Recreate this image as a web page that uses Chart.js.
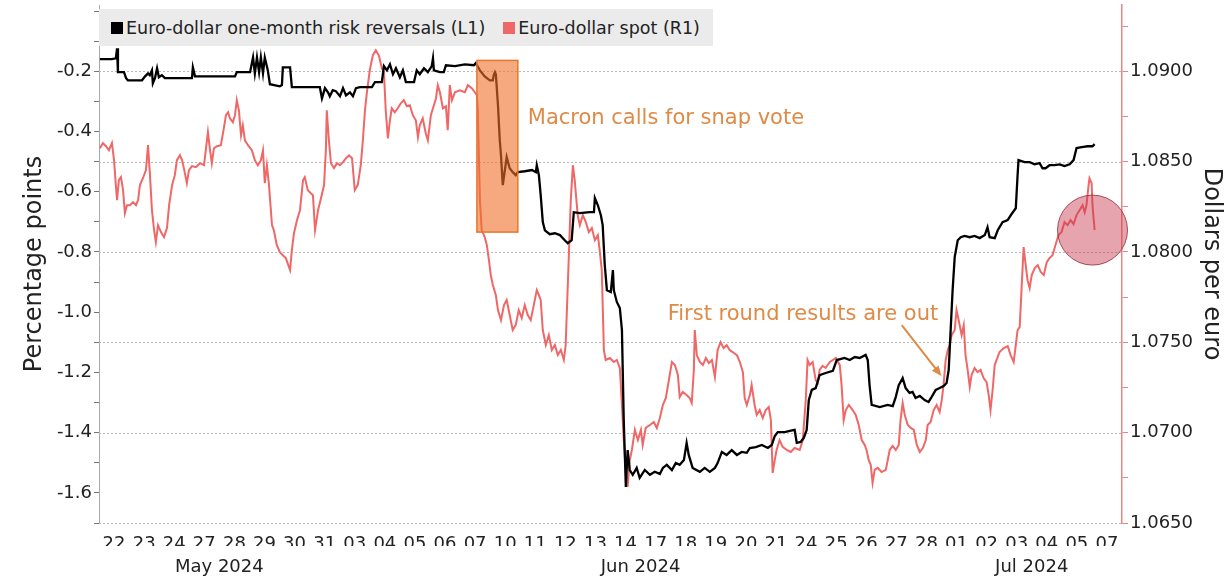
<!DOCTYPE html>
<html>
<head>
<meta charset="utf-8">
<script src="https://cdn.jsdelivr.net/npm/chart.js@4.4.1/dist/chart.umd.min.js"></script>
<style>
  html, body { margin: 0; padding: 0; background: #fff; }
  #wrap { position: relative; width: 1232px; height: 582px; }
  #legend {
    position: absolute; left: 99px; top: 9px; width: 614px; height: 37px;
    background: #ebebeb; display: flex; align-items: center;
    font: 17.5px "DejaVu Sans", sans-serif; color: #222; box-sizing: border-box; padding-left: 12px;
  }
  #legend .sw { width: 12px; height: 12px; display: inline-block; margin-right: 3px; }
  #legend .item { display: flex; align-items: center; margin-right: 18px; white-space: nowrap; }
</style>
</head>
<body>
<div id="wrap">
  <canvas id="chart" width="1232" height="582"></canvas>
  <div id="legend"></div>
</div>
<script>
// Trading-day axis: each day occupies one unit, labels sit in the middle of it
const dayLabels = ['22','23','24','27','28','29','30','31','03','04','05','06','07','10','11','12','13','14',
  '17','18','19','20','21','24','25','26','27','28','01','02','03','04','05','07'];
const monthLabels = ['May 2024', 'Jun 2024', 'Jul 2024'];
const monthStartDay = [0, 8, 28];

const seriesNames = ['Euro-dollar one-month risk reversals (L1)', 'Euro-dollar spot (R1)'];
const seriesColors = ['#000000', '#ef6767'];

// [trading-day position, percentage points]
const riskReversals = [[0.03,-0.160],[0.43,-0.160],[0.56,-0.157],[0.60,-0.124],[0.63,-0.203],[0.83,-0.203],[0.90,-0.223],[0.96,-0.230],[1.43,-0.230],[1.53,-0.217],[1.63,-0.207],[1.69,-0.213],[1.76,-0.197],[1.79,-0.240],[1.86,-0.223],[1.93,-0.190],[1.99,-0.220],[2.09,-0.213],[2.19,-0.223],[3.09,-0.223],[3.12,-0.187],[3.19,-0.217],[3.85,-0.217],[4.52,-0.217],[4.58,-0.203],[5.02,-0.203],[5.12,-0.154],[5.18,-0.207],[5.25,-0.154],[5.32,-0.203],[5.38,-0.154],[5.45,-0.207],[5.51,-0.154],[5.61,-0.197],[5.68,-0.243],[6.01,-0.250],[6.08,-0.246],[6.11,-0.187],[6.35,-0.187],[6.41,-0.253],[7.34,-0.253],[7.41,-0.290],[7.51,-0.256],[7.61,-0.270],[7.67,-0.283],[7.77,-0.263],[7.87,-0.266],[8.01,-0.283],[8.11,-0.256],[8.21,-0.280],[8.34,-0.270],[8.44,-0.283],[8.54,-0.256],[8.67,-0.253],[9.07,-0.253],[9.17,-0.236],[9.40,-0.236],[9.47,-0.183],[9.57,-0.197],[9.67,-0.177],[9.77,-0.210],[9.87,-0.190],[10.00,-0.220],[10.10,-0.197],[10.20,-0.236],[10.47,-0.236],[10.56,-0.197],[10.66,-0.210],[10.80,-0.190],[10.93,-0.203],[11.06,-0.183],[11.10,-0.157],[11.13,-0.197],[11.33,-0.203],[11.46,-0.203],[11.53,-0.180],[11.83,-0.183],[12.16,-0.177],[12.46,-0.180],[12.52,-0.173],[12.66,-0.197],[12.82,-0.217],[12.99,-0.230],[13.09,-0.230],[13.12,-0.213],[13.16,-0.203],[13.19,-0.210],[13.26,-0.313],[13.32,-0.429],[13.36,-0.479],[13.42,-0.578],[13.49,-0.528],[13.55,-0.485],[13.65,-0.522],[13.75,-0.535],[13.85,-0.545],[13.92,-0.535],[14.15,-0.532],[14.39,-0.528],[14.52,-0.535],[14.55,-0.512],[14.62,-0.545],[14.68,-0.611],[14.75,-0.701],[14.82,-0.728],[14.98,-0.741],[15.15,-0.738],[15.32,-0.744],[15.48,-0.761],[15.58,-0.771],[15.71,-0.761],[15.78,-0.668],[15.98,-0.671],[16.31,-0.668],[16.45,-0.668],[16.48,-0.621],[16.58,-0.645],[16.68,-0.678],[16.74,-0.711],[16.81,-0.844],[16.88,-0.927],[17.01,-0.933],[17.08,-0.860],[17.11,-0.927],[17.21,-0.966],[17.31,-0.986],[17.38,-1.059],[17.44,-1.358],[17.51,-1.580],[17.57,-1.458],[17.64,-1.524],[17.74,-1.540],[17.87,-1.517],[17.97,-1.550],[18.14,-1.524],[18.31,-1.540],[18.47,-1.530],[18.64,-1.537],[18.74,-1.517],[18.87,-1.507],[19.04,-1.524],[19.17,-1.501],[19.30,-1.507],[19.44,-1.491],[19.53,-1.434],[19.60,-1.474],[19.73,-1.517],[19.97,-1.530],[20.13,-1.517],[20.30,-1.530],[20.47,-1.517],[20.56,-1.501],[20.70,-1.464],[20.86,-1.474],[21.03,-1.458],[21.20,-1.474],[21.36,-1.464],[21.53,-1.467],[21.63,-1.451],[21.83,-1.448],[22.03,-1.441],[22.23,-1.451],[22.36,-1.441],[22.46,-1.411],[22.56,-1.398],[22.79,-1.398],[22.96,-1.394],[23.12,-1.391],[23.19,-1.434],[23.32,-1.431],[23.42,-1.418],[23.52,-1.391],[23.59,-1.292],[23.69,-1.258],[23.82,-1.252],[23.95,-1.209],[24.15,-1.202],[24.39,-1.195],[24.52,-1.159],[24.78,-1.152],[24.95,-1.159],[25.12,-1.149],[25.28,-1.152],[25.48,-1.142],[25.55,-1.159],[25.61,-1.242],[25.68,-1.308],[25.95,-1.315],[26.21,-1.308],[26.38,-1.312],[26.48,-1.282],[26.58,-1.242],[26.68,-1.225],[26.71,-1.219],[26.81,-1.252],[26.94,-1.268],[27.04,-1.265],[27.14,-1.285],[27.28,-1.278],[27.44,-1.292],[27.57,-1.298],[27.67,-1.282],[27.81,-1.258],[27.94,-1.252],[28.07,-1.245],[28.17,-1.235],[28.24,-1.192],[28.31,-1.049],[28.37,-0.927],[28.44,-0.817],[28.54,-0.761],[28.64,-0.751],[28.77,-0.747],[28.94,-0.751],[29.10,-0.747],[29.27,-0.754],[29.44,-0.744],[29.53,-0.718],[29.60,-0.751],[29.77,-0.754],[29.87,-0.728],[30.03,-0.701],[30.20,-0.694],[30.33,-0.674],[30.47,-0.655],[30.53,-0.545],[30.56,-0.495],[30.76,-0.502],[30.93,-0.502],[31.10,-0.509],[31.26,-0.505],[31.36,-0.522],[31.46,-0.522],[31.59,-0.512],[31.76,-0.512],[31.93,-0.509],[32.09,-0.515],[32.26,-0.509],[32.39,-0.495],[32.49,-0.455],[32.66,-0.452],[32.86,-0.449],[33.02,-0.449],[33.09,-0.442]];

// [trading-day position, dollars per euro]
const spot = [[0.03,1.08574],[0.13,1.08602],[0.23,1.08585],[0.33,1.08563],[0.43,1.08602],[0.50,1.08508],[0.56,1.08370],[0.60,1.08287],[0.66,1.08397],[0.73,1.08414],[0.80,1.08342],[0.86,1.08215],[0.93,1.08259],[1.03,1.08259],[1.13,1.08276],[1.23,1.08259],[1.30,1.08287],[1.36,1.08370],[1.46,1.08408],[1.56,1.08453],[1.63,1.08591],[1.69,1.08436],[1.76,1.08231],[1.83,1.08121],[1.89,1.08054],[1.96,1.08148],[2.06,1.08110],[2.16,1.08082],[2.26,1.08132],[2.33,1.08259],[2.43,1.08370],[2.52,1.08425],[2.59,1.08508],[2.69,1.08535],[2.76,1.08508],[2.82,1.08464],[2.92,1.08381],[2.99,1.08453],[3.09,1.08475],[3.22,1.08469],[3.36,1.08491],[3.49,1.08480],[3.55,1.08563],[3.62,1.08663],[3.69,1.08563],[3.75,1.08491],[3.82,1.08574],[3.92,1.08585],[4.05,1.08591],[4.15,1.08685],[4.22,1.08757],[4.29,1.08773],[4.35,1.08740],[4.45,1.08718],[4.52,1.08757],[4.58,1.08840],[4.65,1.08784],[4.72,1.08646],[4.78,1.08701],[4.85,1.08618],[4.95,1.08591],[5.08,1.08563],[5.18,1.08508],[5.28,1.08480],[5.38,1.08508],[5.45,1.08563],[5.51,1.08381],[5.58,1.08480],[5.65,1.08370],[5.75,1.08148],[5.81,1.08121],[5.91,1.08038],[6.01,1.07999],[6.11,1.07982],[6.21,1.07966],[6.35,1.07900],[6.41,1.08010],[6.48,1.08104],[6.58,1.08176],[6.68,1.08231],[6.78,1.08397],[6.84,1.08414],[6.94,1.08342],[7.04,1.08325],[7.11,1.08314],[7.18,1.08121],[7.28,1.08231],[7.38,1.08298],[7.48,1.08370],[7.54,1.08563],[7.57,1.08784],[7.64,1.08618],[7.71,1.08491],[7.81,1.08464],[7.91,1.08491],[8.01,1.08480],[8.11,1.08497],[8.21,1.08519],[8.31,1.08535],[8.41,1.08519],[8.50,1.08342],[8.60,1.08370],[8.70,1.08480],[8.77,1.08618],[8.84,1.08784],[8.90,1.08878],[9.00,1.09006],[9.10,1.09088],[9.20,1.09116],[9.30,1.09088],[9.40,1.09017],[9.47,1.08994],[9.53,1.08784],[9.60,1.08629],[9.67,1.08729],[9.73,1.08795],[9.83,1.08773],[9.93,1.08795],[10.03,1.08823],[10.13,1.08840],[10.23,1.08806],[10.33,1.08812],[10.43,1.08757],[10.53,1.08729],[10.60,1.08635],[10.66,1.08701],[10.76,1.08740],[10.86,1.08657],[10.93,1.08618],[11.03,1.08757],[11.10,1.08795],[11.20,1.08851],[11.26,1.08923],[11.33,1.08884],[11.43,1.08795],[11.53,1.08806],[11.59,1.08674],[11.66,1.08923],[11.73,1.08840],[11.83,1.08884],[11.99,1.08895],[12.16,1.08884],[12.26,1.08923],[12.39,1.08906],[12.49,1.08884],[12.56,1.08867],[12.59,1.08784],[12.66,1.08287],[12.72,1.08121],[12.82,1.08082],[12.89,1.08038],[12.96,1.07955],[13.02,1.07872],[13.09,1.07817],[13.19,1.07761],[13.26,1.07678],[13.36,1.07623],[13.46,1.07706],[13.55,1.07734],[13.65,1.07651],[13.75,1.07568],[13.85,1.07595],[13.95,1.07678],[14.05,1.07634],[14.15,1.07706],[14.25,1.07651],[14.35,1.07623],[14.45,1.07706],[14.55,1.07789],[14.62,1.07761],[14.68,1.07734],[14.75,1.07568],[14.85,1.07485],[14.95,1.07540],[15.05,1.07457],[15.15,1.07485],[15.25,1.07429],[15.35,1.07457],[15.45,1.07402],[15.51,1.07485],[15.61,1.07955],[15.68,1.08287],[15.75,1.08480],[15.81,1.08397],[15.91,1.08204],[15.98,1.08148],[16.08,1.08204],[16.18,1.08165],[16.28,1.08110],[16.38,1.08132],[16.48,1.08065],[16.58,1.08093],[16.64,1.08010],[16.71,1.07900],[16.78,1.07457],[16.84,1.07402],[16.98,1.07413],[17.11,1.07391],[17.21,1.07402],[17.31,1.07358],[17.38,1.07153],[17.44,1.06959],[17.51,1.06794],[17.57,1.06700],[17.64,1.06849],[17.71,1.06904],[17.81,1.07015],[17.91,1.06959],[18.01,1.07015],[18.07,1.06932],[18.17,1.07026],[18.31,1.07042],[18.44,1.07059],[18.54,1.07026],[18.64,1.07081],[18.74,1.07153],[18.84,1.07192],[18.94,1.07291],[19.04,1.07391],[19.14,1.07374],[19.24,1.07319],[19.30,1.07197],[19.40,1.07225],[19.53,1.07208],[19.63,1.07192],[19.70,1.07164],[19.77,1.07347],[19.80,1.07568],[19.87,1.07429],[19.97,1.07391],[20.07,1.07374],[20.17,1.07413],[20.27,1.07385],[20.37,1.07402],[20.47,1.07308],[20.56,1.07457],[20.66,1.07501],[20.76,1.07468],[20.86,1.07485],[20.96,1.07457],[21.06,1.07446],[21.20,1.07429],[21.30,1.07391],[21.40,1.07335],[21.46,1.07192],[21.53,1.07153],[21.63,1.07208],[21.69,1.07264],[21.79,1.07153],[21.86,1.07098],[21.96,1.07125],[22.06,1.07081],[22.16,1.07125],[22.26,1.07142],[22.33,1.07070],[22.39,1.06777],[22.46,1.06849],[22.52,1.06904],[22.62,1.06959],[22.72,1.06921],[22.86,1.06904],[22.99,1.06893],[23.12,1.06915],[23.29,1.06904],[23.39,1.06959],[23.49,1.07181],[23.55,1.07402],[23.62,1.07374],[23.72,1.07391],[23.82,1.07291],[23.89,1.07275],[23.95,1.07347],[24.05,1.07369],[24.15,1.07358],[24.29,1.07391],[24.39,1.07402],[24.49,1.07413],[24.62,1.07374],[24.68,1.07264],[24.75,1.07070],[24.82,1.07125],[24.92,1.07153],[25.05,1.07125],[25.15,1.07098],[25.25,1.07042],[25.35,1.06959],[25.45,1.06932],[25.51,1.06904],[25.58,1.06849],[25.65,1.06821],[25.71,1.06722],[25.78,1.06794],[25.88,1.06805],[26.01,1.06782],[26.15,1.06794],[26.28,1.06904],[26.38,1.06926],[26.48,1.06904],[26.58,1.06932],[26.64,1.07070],[26.71,1.07164],[26.78,1.07098],[26.88,1.07042],[26.98,1.07026],[27.08,1.07015],[27.18,1.06932],[27.28,1.06893],[27.38,1.06915],[27.48,1.06959],[27.54,1.07042],[27.64,1.07059],[27.74,1.07125],[27.84,1.07153],[27.94,1.07114],[28.01,1.07181],[28.07,1.07264],[28.14,1.07402],[28.21,1.07457],[28.27,1.07485],[28.34,1.07540],[28.44,1.07568],[28.50,1.07678],[28.57,1.07623],[28.67,1.07540],[28.74,1.07595],[28.80,1.07429],[28.87,1.07347],[28.94,1.07253],[29.00,1.07319],[29.10,1.07358],[29.20,1.07335],[29.30,1.07347],[29.40,1.07302],[29.50,1.07280],[29.57,1.07208],[29.63,1.07125],[29.70,1.07236],[29.77,1.07374],[29.83,1.07402],[29.93,1.07446],[30.07,1.07468],[30.20,1.07479],[30.30,1.07429],[30.40,1.07391],[30.47,1.07485],[30.53,1.07568],[30.60,1.07584],[30.66,1.07789],[30.73,1.08027],[30.80,1.07927],[30.86,1.07844],[30.93,1.07800],[31.00,1.07872],[31.10,1.07911],[31.20,1.07927],[31.30,1.07889],[31.40,1.07872],[31.50,1.07944],[31.59,1.07966],[31.69,1.07982],[31.79,1.08038],[31.89,1.08093],[31.99,1.08110],[32.09,1.08165],[32.19,1.08148],[32.29,1.08176],[32.39,1.08154],[32.49,1.08204],[32.59,1.08231],[32.69,1.08259],[32.76,1.08220],[32.82,1.08259],[32.89,1.08370],[32.92,1.08408],[32.99,1.08381],[33.02,1.08259],[33.09,1.08121]];

// Axis ranges (left and right share the same gridline positions)
const leftMin = -1.7, leftMax = 0.02;
const rightMin = 1.065, rightMax = 1.065 + (leftMax - leftMin) / 60;

// Annotation anchors, in axis units
const snapVote = { start: 12.56, end: 13.92, high: -0.164, low: -0.734 };
const snapVoteText = { text: 'Macron calls for snap vote', day: 14.25, value: -0.356 };
const firstRoundText = { text: 'First round results are out', day: 18.9, value: -1.009 };
const firstRoundArrow = { fromDay: 26.68, fromValue: -1.043, toDay: 28.0, toValue: -1.212 };
const lastMoveCircle = { day: 33.02, spot: 1.08121, radius: 35 };

const FONT = '"DejaVu Sans", sans-serif';
const ANNOT_COLOR = '#df8a45';

// Legend strip
const legendEl = document.getElementById('legend');
seriesNames.forEach((name, i) => {
  const item = document.createElement('span');
  item.className = 'item';
  const sw = document.createElement('span');
  sw.className = 'sw';
  sw.style.background = seriesColors[i];
  item.appendChild(sw);
  item.appendChild(document.createTextNode(name));
  legendEl.appendChild(item);
});

const isLeftLabel = v => { const n = Math.round(v * 10); return n % 2 === 0 && n <= -2 && n >= -16; };
const isRightMajor = v => Math.round(v * 10000) % 50 === 0;

// Dotted horizontal guides at the labelled right-axis levels
const dottedGridPlugin = {
  id: 'dottedGrid',
  beforeDatasetsDraw(chart) {
    const { ctx, chartArea, scales: { y1 } } = chart;
    ctx.save();
    ctx.strokeStyle = '#b9b9b9';
    ctx.lineWidth = 1;
    ctx.setLineDash([2, 2]);
    y1.ticks.forEach(t => {
      if (!isRightMajor(t.value)) return;
      const py = Math.round(y1.getPixelForValue(t.value)) + 0.5;
      ctx.beginPath();
      ctx.moveTo(chartArea.left, py);
      ctx.lineTo(chartArea.right, py);
      ctx.stroke();
    });
    ctx.restore();
  }
};

const annotationPlugin = {
  id: 'eventAnnotations',
  afterDatasetsDraw(chart) {
    const { ctx, scales: { x, y, y1 } } = chart;
    ctx.save();

    // Shaded window around the snap-vote announcement
    const bx0 = x.getPixelForValue(snapVote.start), bx1 = x.getPixelForValue(snapVote.end);
    const by0 = y.getPixelForValue(snapVote.high), by1 = y.getPixelForValue(snapVote.low);
    ctx.fillStyle = 'rgba(240,112,40,0.6)';
    ctx.fillRect(bx0, by0, bx1 - bx0, by1 - by0);
    ctx.strokeStyle = '#e3782e';
    ctx.lineWidth = 1.5;
    ctx.strokeRect(bx0, by0, bx1 - bx0, by1 - by0);

    // Highlight on the latest spot move
    const cx = x.getPixelForValue(lastMoveCircle.day), cy = y1.getPixelForValue(lastMoveCircle.spot);
    ctx.beginPath();
    ctx.arc(cx, cy, lastMoveCircle.radius, 0, Math.PI * 2);
    ctx.fillStyle = 'rgba(200,55,75,0.45)';
    ctx.fill();
    ctx.strokeStyle = 'rgba(150,40,50,0.8)';
    ctx.lineWidth = 1;
    ctx.stroke();

    // Text labels
    ctx.font = '21px ' + FONT;
    ctx.fillStyle = ANNOT_COLOR;
    ctx.textAlign = 'left';
    ctx.textBaseline = 'middle';
    ctx.fillText(snapVoteText.text, x.getPixelForValue(snapVoteText.day), y.getPixelForValue(snapVoteText.value));
    ctx.fillText(firstRoundText.text, x.getPixelForValue(firstRoundText.day), y.getPixelForValue(firstRoundText.value));

    // Arrow pointing at the first-round reaction
    const ax0 = x.getPixelForValue(firstRoundArrow.fromDay), ay0 = y.getPixelForValue(firstRoundArrow.fromValue);
    const ax1 = x.getPixelForValue(firstRoundArrow.toDay), ay1 = y.getPixelForValue(firstRoundArrow.toValue);
    const ang = Math.atan2(ay1 - ay0, ax1 - ax0);
    ctx.strokeStyle = ANNOT_COLOR;
    ctx.lineWidth = 2;
    ctx.beginPath();
    ctx.moveTo(ax0, ay0);
    ctx.lineTo(ax1 - 6 * Math.cos(ang), ay1 - 6 * Math.sin(ang));
    ctx.stroke();
    ctx.beginPath();
    ctx.moveTo(ax1, ay1);
    ctx.lineTo(ax1 - 11 * Math.cos(ang - 0.4), ay1 - 11 * Math.sin(ang - 0.4));
    ctx.lineTo(ax1 - 11 * Math.cos(ang + 0.4), ay1 - 11 * Math.sin(ang + 0.4));
    ctx.closePath();
    ctx.fillStyle = ANNOT_COLOR;
    ctx.fill();

    ctx.restore();
  }
};

const tickFont = { family: FONT, size: 18 };
const titleFont = { family: FONT, size: 24 };

new Chart(document.getElementById('chart'), {
  type: 'line',
  data: {
    datasets: [
      {
        label: seriesNames[0],
        data: riskReversals.map(([t, v]) => ({ x: t, y: v })),
        yAxisID: 'y',
        borderColor: seriesColors[0],
        borderWidth: 2.3,
        pointRadius: 0,
        tension: 0
      },
      {
        label: seriesNames[1],
        data: spot.map(([t, v]) => ({ x: t, y: v })),
        yAxisID: 'y1',
        borderColor: seriesColors[1],
        borderWidth: 2,
        pointRadius: 0,
        tension: 0
      }
    ]
  },
  options: {
    responsive: false,
    animation: false,
    events: [],
    layout: { padding: { top: 5, left: 0, right: 0, bottom: 0 } },
    plugins: { legend: { display: false }, tooltip: { enabled: false } },
    scales: {
      x: {
        type: 'linear', position: 'bottom', weight: 0,
        min: 0, max: dayLabels.length,
        grid: { display: false, drawTicks: false },
        border: { display: false },
        afterBuildTicks: s => { s.ticks = dayLabels.map((_, i) => ({ value: i + 0.5 })); },
        ticks: {
          autoSkip: false, maxRotation: 0, padding: 11, color: '#222', font: tickFont,
          callback: v => dayLabels[Math.floor(v)]
        },
        afterFit: s => { s.height = 23; s.paddingLeft = 0; s.paddingRight = 0; }
      },
      xMonth: {
        type: 'linear', position: 'bottom', weight: 1,
        min: 0, max: dayLabels.length,
        grid: { display: false, drawTicks: false },
        border: { display: false },
        afterBuildTicks: s => {
          s.ticks = monthStartDay.map((d, i) => {
            const end = i + 1 < monthStartDay.length ? monthStartDay[i + 1] : dayLabels.length;
            return { value: (d + end) / 2 };
          });
        },
        ticks: {
          autoSkip: false, maxRotation: 0, padding: 11, color: '#222', font: tickFont,
          callback: (v, i) => monthLabels[i]
        },
        afterFit: s => { s.height = 36; s.paddingLeft = 0; s.paddingRight = 0; }
      },
      y: {
        position: 'left',
        min: leftMin, max: leftMax,
        afterBuildTicks: s => {
          const t = [];
          for (let k = -17; k <= 0; k++) t.push({ value: k / 10 });
          s.ticks = t;
        },
        ticks: {
          padding: 2, color: '#222', font: tickFont,
          callback: v => isLeftLabel(v) ? v.toFixed(1) : ''
        },
        grid: { drawOnChartArea: false, tickLength: 5, tickColor: '#777' },
        border: { color: '#a8a8a8', width: 1 },
        title: { display: true, text: 'Percentage points', color: '#222', font: titleFont, padding: { top: 20, bottom: 0 } },
        afterFit: s => { s.width = 99; s.paddingTop = 0; s.paddingBottom = 0; }
      },
      y1: {
        position: 'right',
        min: rightMin, max: rightMax,
        afterBuildTicks: s => {
          const t = [];
          for (let k = 0; k <= 11; k++) t.push({ value: (10650 + 25 * k) / 10000 });
          s.ticks = t;
        },
        ticks: {
          padding: 2, color: '#222', font: tickFont,
          callback: v => isRightMajor(v) ? v.toFixed(4) : ''
        },
        grid: { drawOnChartArea: false, tickLength: 6, tickColor: '#e98585', lineWidth: 1 },
        border: { color: '#e98585', width: 1.5 },
        title: { display: true, text: 'Dollars per euro', color: '#222', font: titleFont, padding: { top: 6, bottom: 0 } },
        afterFit: s => { s.width = 110; s.paddingTop = 0; s.paddingBottom = 0; }
      }
    }
  },
  plugins: [dottedGridPlugin, annotationPlugin]
});
</script>
</body>
</html>
